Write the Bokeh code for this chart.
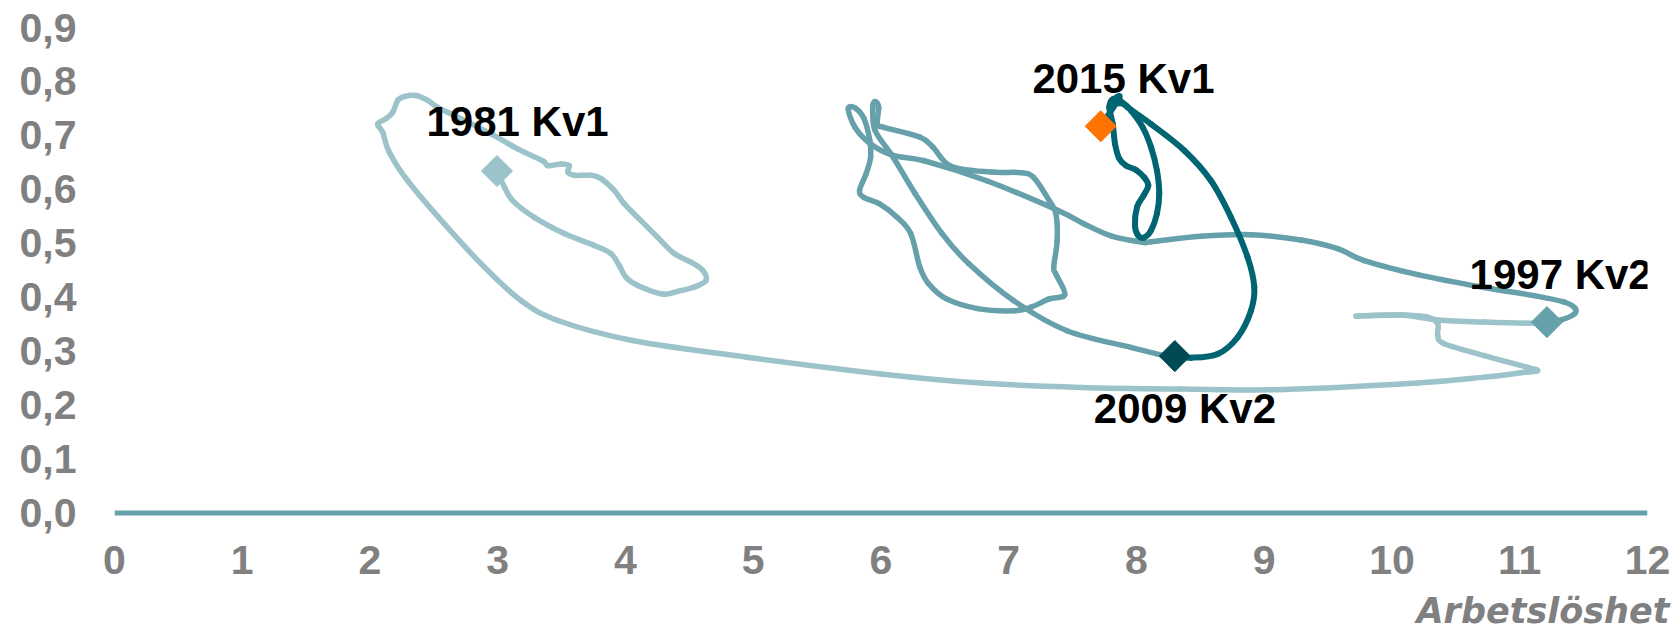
import math
from bokeh.plotting import figure
from bokeh.models import Range1d, FixedTicker, Title
from bokeh.core.properties import value
from bokeh.embed import file_html
from bokeh.resources import INLINE

# --- data: unemployment (x, %) vs vacancy rate (y, %) ---
x_1981_1997 = [2.994, 3.051, 3.117, 3.286, 3.521, 3.756, 3.886, 3.951, 4.004, 4.096,
               4.291, 4.409, 4.539, 4.630, 4.604, 4.513, 4.382, 4.252, 4.121, 3.991,
               3.912, 3.808, 3.730, 3.599, 3.548, 3.560, 3.495, 3.391, 3.352, 3.156,
               2.947, 2.712, 2.530, 2.452, 2.360, 2.268, 2.217, 2.178, 2.125, 2.060,
               2.099, 2.151, 2.295, 2.582, 2.895, 3.182, 3.470, 4.054, 4.951, 6.000,
               6.783, 7.566, 8.348, 9.155, 10.201, 10.722, 11.036, 11.140, 11.062, 10.722,
               10.409, 10.358, 10.358, 10.279, 10.070, 9.718, 10.070, 10.358, 10.722, 11.114,
               11.213]
y_1981_1997 = [0.634, 0.605, 0.579, 0.548, 0.518, 0.496, 0.481, 0.459, 0.437, 0.422,
               0.406, 0.411, 0.419, 0.431, 0.450, 0.465, 0.481, 0.511, 0.542, 0.573,
               0.598, 0.620, 0.626, 0.626, 0.632, 0.644, 0.647, 0.644, 0.653, 0.675,
               0.703, 0.731, 0.752, 0.765, 0.774, 0.772, 0.765, 0.743, 0.731, 0.721,
               0.706, 0.669, 0.616, 0.536, 0.456, 0.394, 0.357, 0.320, 0.289, 0.258,
               0.241, 0.233, 0.230, 0.229, 0.241, 0.252, 0.261, 0.264, 0.270, 0.292,
               0.314, 0.329, 0.351, 0.363, 0.367, 0.365, 0.367, 0.358, 0.354, 0.352,
               0.354]

x_1997_2009 = [11.213, 11.323, 11.427, 11.432, 11.349, 11.114, 10.722, 10.201, 9.783, 9.575,
               9.288, 8.896, 8.505, 8.114, 8.049, 7.800, 7.591, 7.386, 6.827, 6.338,
               6.094, 5.919, 5.796, 5.744, 5.796, 5.867, 5.912, 5.919, 5.884, 5.832,
               5.867, 5.989, 6.128, 6.233, 6.304, 6.373, 6.513, 6.758, 7.037, 7.177,
               7.317, 7.439, 7.369, 7.352, 7.379, 7.369, 7.317, 7.195, 7.090, 6.863,
               6.548, 6.408, 6.303, 6.023, 5.971, 5.982, 5.954, 5.936, 5.954, 6.094,
               6.268, 6.478, 6.688, 7.037, 7.456, 7.957, 8.218, 8.300]
y_1997_2009 = [0.354, 0.358, 0.369, 0.380, 0.391, 0.403, 0.418, 0.442, 0.468, 0.490,
               0.506, 0.516, 0.513, 0.503, 0.502, 0.514, 0.536, 0.561, 0.616, 0.653,
               0.663, 0.684, 0.715, 0.749, 0.751, 0.731, 0.691, 0.660, 0.629, 0.598,
               0.585, 0.573, 0.548, 0.518, 0.456, 0.425, 0.397, 0.379, 0.375, 0.382,
               0.397, 0.405, 0.443, 0.456, 0.505, 0.555, 0.579, 0.622, 0.631, 0.632,
               0.643, 0.678, 0.697, 0.715, 0.721, 0.752, 0.763, 0.752, 0.709, 0.660,
               0.592, 0.518, 0.462, 0.394, 0.338, 0.307, 0.292, 0.291]

x_2009_2015 = [8.300, 8.427, 8.636, 8.792, 8.896, 8.922, 8.870, 8.740, 8.583, 8.374,
               8.114, 7.931, 7.865, 7.816, 7.800, 7.896, 7.957, 8.049, 8.114, 8.160,
               8.178, 8.160, 8.114, 8.061, 8.014, 7.988, 8.004, 8.056, 8.092, 8.061,
               7.996, 7.918, 7.865, 7.832, 7.814, 7.787, 7.814, 7.865, 7.720]
y_2009_2015 = [0.291, 0.288, 0.295, 0.326, 0.375, 0.419, 0.474, 0.548, 0.616, 0.672,
               0.721, 0.752, 0.766, 0.767, 0.759, 0.759, 0.746, 0.715, 0.678, 0.635,
               0.592, 0.555, 0.524, 0.511, 0.514, 0.533, 0.567, 0.589, 0.607, 0.622,
               0.636, 0.644, 0.657, 0.684, 0.721, 0.752, 0.765, 0.770, 0.717]

marker_x = [2.994, 11.213, 8.300, 7.720]
marker_y = [0.634, 0.354, 0.291, 0.717]
marker_colors = ["#9BC3C9", "#66A0AA", "#004A55", "#FF7300"]

label_text = ["1981 Kv1", "1997 Kv2", "2009 Kv2", "2015 Kv1"]
label_x = [3.155, 11.32, 8.379, 7.898]
label_y = [0.725, 0.442, 0.193, 0.805]

x_ticks = list(range(0, 13))
y_ticks = [0.0, 0.1, 0.2, 0.3, 0.4, 0.5, 0.6, 0.7, 0.8, 0.9]
y_tick_labels = ["0,0", "0,1", "0,2", "0,3", "0,4", "0,5", "0,6", "0,7", "0,8", "0,9"]
x_title = "Arbetslöshet"

FONT = "Liberation Sans"
GREY = "#808080"


def smooth_segments(xs, ys):
    """Bezier control points (Catmull-Rom style) through the given points."""
    n = len(xs)
    out = {k: [] for k in ("x0", "y0", "x1", "y1", "cx0", "cy0", "cx1", "cy1")}
    for i in range(n - 1):
        im1 = max(i - 1, 0)
        ip2 = min(i + 2, n - 1)
        out["x0"].append(xs[i]); out["y0"].append(ys[i])
        out["x1"].append(xs[i + 1]); out["y1"].append(ys[i + 1])
        out["cx0"].append(xs[i] + (xs[i + 1] - xs[im1]) / 6.0)
        out["cy0"].append(ys[i] + (ys[i + 1] - ys[im1]) / 6.0)
        out["cx1"].append(xs[i + 1] - (xs[ip2] - xs[i]) / 6.0)
        out["cy1"].append(ys[i + 1] - (ys[ip2] - ys[i]) / 6.0)
    return out


p = figure(width=1679, height=630, output_backend="svg", toolbar_location=None,
           title=None, x_range=Range1d(0, 12), y_range=Range1d(-0.01, 0.9),
           min_border_left=114, min_border_right=32, min_border_top=27,
           min_border_bottom=112)
p.outline_line_color = None
p.xgrid.visible = False
p.ygrid.visible = False
p.background_fill_color = "white"
p.border_fill_color = "white"

for ax in (p.xaxis[0], p.yaxis[0]):
    ax.axis_line_color = None
    ax.major_tick_line_color = None
    ax.minor_tick_line_color = None
    ax.major_label_text_font = FONT
    ax.major_label_text_font_style = "bold"
    ax.major_label_text_font_size = "41px"
    ax.major_label_text_color = GREY

p.xaxis[0].ticker = FixedTicker(ticks=x_ticks)
p.xaxis[0].major_label_standoff = 21
# blank spacer label: pushes the right-aligned title a little lower
p.xaxis[0].axis_label = " "
p.xaxis[0].axis_label_standoff = 0
p.xaxis[0].axis_label_text_font_size = "8px"
p.yaxis[0].ticker = FixedTicker(ticks=y_ticks)
p.yaxis[0].major_label_overrides = {t: s for t, s in zip(y_ticks, y_tick_labels)}
p.yaxis[0].major_label_standoff = 32

# zero line
p.line([x_ticks[0], x_ticks[-1]], [0, 0], line_color="#66A0AA", line_width=5)

for xs, ys, col, lw in ((x_1981_1997, y_1981_1997, "#9BC3C9", 5.5),
                        (x_1997_2009, y_1997_2009, "#66A0AA", 5.5),
                        (x_2009_2015, y_2009_2015, "#006573", 6)):
    seg = smooth_segments(xs, ys)
    p.bezier(x0=seg["x0"], y0=seg["y0"], x1=seg["x1"], y1=seg["y1"],
             cx0=seg["cx0"], cy0=seg["cy0"], cx1=seg["cx1"], cy1=seg["cy1"],
             line_color=col, line_width=lw, line_cap="round")

p.scatter(marker_x, marker_y, marker="square", angle=math.pi / 4, size=22,
          fill_color=marker_colors, line_color=marker_colors)

p.text(label_x, label_y, text=label_text, text_font=value(FONT),
       text_font_style="bold", text_font_size="42px", text_color="black",
       text_align="center", text_baseline="middle")

p.add_layout(Title(text=x_title, align="right", offset=-22, standoff=0,
                   vertical_align="bottom",
                   text_font="DejaVu Sans", text_font_style="bold italic",
                   text_font_size="35px", text_color=GREY), "below")

open("out.html", "w").write(file_html(p, INLINE))
